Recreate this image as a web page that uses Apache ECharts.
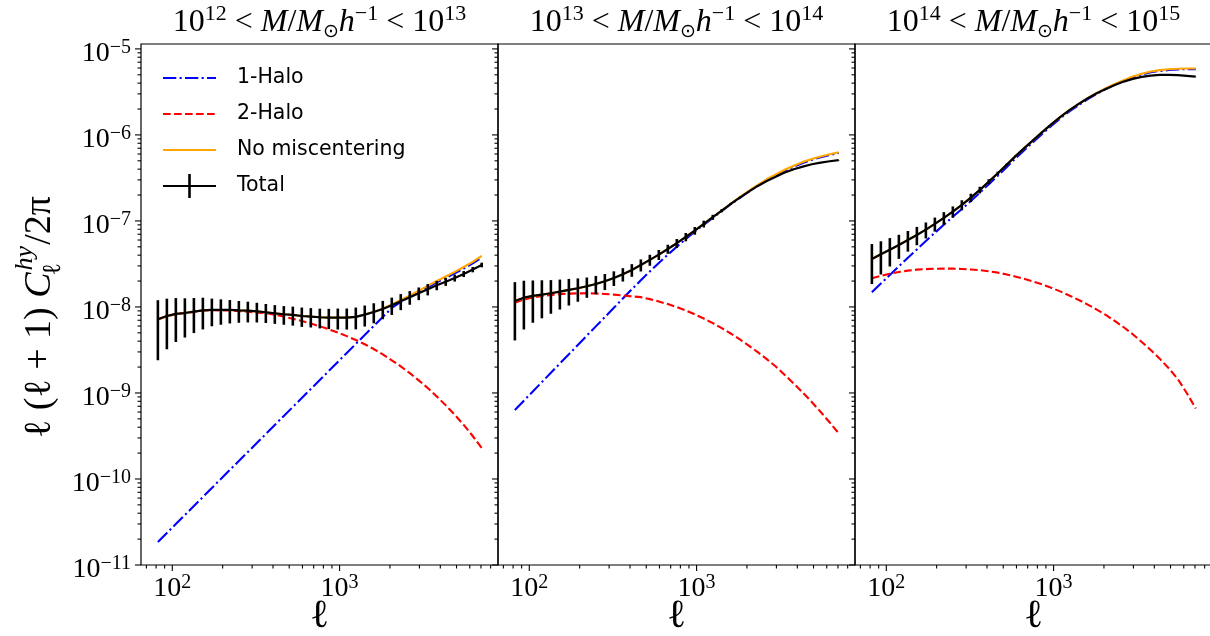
<!DOCTYPE html>
<html><head><meta charset="utf-8">
<script src="https://cdn.jsdelivr.net/npm/echarts@6/dist/echarts.min.js"></script>
<style>html,body{margin:0;padding:0;background:#fff}#c{width:1210px;height:636px}</style>
</head><body><div id="c"></div>
<script>
// multipole grid (shared by all panels)
const ell = [82, 92.8, 105.0, 118.9, 134.6, 152.3, 172.4, 195.1, 220.8, 249.9, 282.9, 320.2, 362.4, 410.1, 464.2, 525.4, 594.6, 673, 761.7, 862.1, 975.7, 1104, 1250, 1414, 1601, 1812, 2051, 2321, 2627, 2973, 3365, 3809, 4311, 4879, 5522, 6250, 7074];

// Panel A: 1e12 < M < 1e13
const oneHaloA = [1.849e-11, 2.355e-11, 2.992e-11, 3.811e-11, 4.853e-11, 6.166e-11, 7.852e-11, 1.000e-10, 1.274e-10, 1.618e-10, 2.061e-10, 2.624e-10, 3.334e-10, 4.246e-10, 5.408e-10, 6.871e-10, 8.750e-10, 1.114e-9, 1.416e-9, 1.803e-9, 2.296e-9, 2.917e-9, 3.715e-9, 4.732e-9, 6.026e-9, 7.638e-9, 9.772e-9, 1.148e-8, 1.303e-8, 1.486e-8, 1.690e-8, 1.928e-8, 2.178e-8, 2.455e-8, 2.799e-8, 3.214e-8, 3.758e-8];
const twoHaloA = [7.16e-9, 7.81e-9, 8.26e-9, 8.47e-9, 8.77e-9, 9.08e-9, 9.14e-9, 9.12e-9, 9.08e-9, 8.95e-9, 8.81e-9, 8.59e-9, 8.47e-9, 8.13e-9, 7.73e-9, 7.29e-9, 6.85e-9, 6.41e-9, 5.96e-9, 5.50e-9, 5.04e-9, 4.58e-9, 4.13e-9, 3.68e-9, 3.24e-9, 2.81e-9, 2.40e-9, 2.04e-9, 1.70e-9, 1.40e-9, 1.140e-9, 9.12e-10, 7.19e-10, 5.58e-10, 4.25e-10, 3.16e-10, 2.29e-10];
const noMiscA = [7.19e-9, 7.85e-9, 8.30e-9, 8.51e-9, 8.83e-9, 9.14e-9, 9.23e-9, 9.23e-9, 9.23e-9, 9.14e-9, 9.06e-9, 8.89e-9, 8.67e-9, 8.43e-9, 8.22e-9, 8.07e-9, 7.85e-9, 7.73e-9, 7.59e-9, 7.52e-9, 7.52e-9, 7.52e-9, 7.66e-9, 8.15e-9, 8.75e-9, 9.59e-9, 1.069e-8, 1.205e-8, 1.355e-8, 1.545e-8, 1.758e-8, 2.004e-8, 2.259e-8, 2.553e-8, 2.911e-8, 3.342e-8, 3.917e-8];
const totalA = [7.19e-9, 7.85e-9, 8.30e-9, 8.51e-9, 8.83e-9, 9.14e-9, 9.23e-9, 9.23e-9, 9.23e-9, 9.14e-9, 9.06e-9, 8.89e-9, 8.67e-9, 8.43e-9, 8.22e-9, 8.07e-9, 7.85e-9, 7.73e-9, 7.59e-9, 7.52e-9, 7.52e-9, 7.52e-9, 7.66e-9, 8.15e-9, 8.75e-9, 9.48e-9, 1.045e-8, 1.164e-8, 1.294e-8, 1.442e-8, 1.603e-8, 1.786e-8, 1.968e-8, 2.173e-8, 2.42e-8, 2.72e-8, 3.08e-8];
const errA = [4.79e-9, 4.63e-9, 4.39e-9, 4.10e-9, 3.86e-9, 3.66e-9, 3.27e-9, 3.02e-9, 2.80e-9, 2.59e-9, 2.45e-9, 2.29e-9, 2.16e-9, 2.07e-9, 2.01e-9, 2.01e-9, 1.99e-9, 1.96e-9, 1.96e-9, 1.99e-9, 2.06e-9, 2.06e-9, 2.17e-9, 2.23e-9, 2.29e-9, 2.28e-9, 2.38e-9, 2.46e-9, 2.34e-9, 2.42e-9, 2.41e-9, 2.21e-9, 2.10e-9, 2.00e-9, 1.94e-9, 1.93e-9, 1.91e-9];

// Panel B: 1e13 < M < 1e14
const oneHaloB = [6.339e-10, 8.128e-10, 1.042e-9, 1.337e-9, 1.714e-9, 2.198e-9, 2.818e-9, 3.614e-9, 4.634e-9, 5.943e-9, 7.621e-9, 9.772e-9, 1.253e-8, 1.603e-8, 2.042e-8, 2.582e-8, 3.251e-8, 4.055e-8, 5.012e-8, 6.166e-8, 7.516e-8, 9.016e-8, 1.081e-7, 1.300e-7, 1.563e-7, 1.849e-7, 2.188e-7, 2.570e-7, 2.979e-7, 3.396e-7, 3.846e-7, 4.285e-7, 4.721e-7, 5.129e-7, 5.495e-7, 5.834e-7, 6.152e-7];
const twoHaloB = [1.122e-8, 1.222e-8, 1.288e-8, 1.343e-8, 1.380e-8, 1.409e-8, 1.429e-8, 1.439e-8, 1.442e-8, 1.432e-8, 1.416e-8, 1.390e-8, 1.361e-8, 1.327e-8, 1.300e-8, 1.233e-8, 1.159e-8, 1.079e-8, 9.954e-9, 9.078e-9, 8.204e-9, 7.328e-9, 6.486e-9, 5.662e-9, 4.909e-9, 4.198e-9, 3.556e-9, 2.979e-9, 2.472e-9, 2.028e-9, 1.618e-9, 1.288e-9, 1.014e-9, 7.852e-10, 6.012e-10, 4.539e-10, 3.396e-10];
const noMiscB = [1.175e-8, 1.282e-8, 1.343e-8, 1.390e-8, 1.442e-8, 1.507e-8, 1.578e-8, 1.648e-8, 1.738e-8, 1.849e-8, 1.991e-8, 2.173e-8, 2.399e-8, 2.692e-8, 3.076e-8, 3.524e-8, 4.055e-8, 4.721e-8, 5.508e-8, 6.516e-8, 7.709e-8, 9.226e-8, 1.104e-7, 1.318e-7, 1.585e-7, 1.888e-7, 2.239e-7, 2.630e-7, 3.048e-7, 3.475e-7, 3.936e-7, 4.385e-7, 4.831e-7, 5.248e-7, 5.623e-7, 5.970e-7, 6.295e-7];
const totalB = [1.175e-8, 1.282e-8, 1.343e-8, 1.390e-8, 1.442e-8, 1.507e-8, 1.578e-8, 1.648e-8, 1.738e-8, 1.849e-8, 1.991e-8, 2.173e-8, 2.399e-8, 2.692e-8, 3.076e-8, 3.524e-8, 4.055e-8, 4.721e-8, 5.508e-8, 6.516e-8, 7.709e-8, 9.226e-8, 1.104e-7, 1.318e-7, 1.578e-7, 1.866e-7, 2.193e-7, 2.553e-7, 2.917e-7, 3.273e-7, 3.648e-7, 3.990e-7, 4.276e-7, 4.560e-7, 4.764e-7, 4.943e-7, 5.082e-7];
const errB = [7.67e-9, 7.35e-9, 6.88e-9, 6.52e-9, 6.09e-9, 5.74e-9, 5.40e-9, 4.99e-9, 4.61e-9, 4.44e-9, 4.20e-9, 4.22e-9, 4.25e-9, 4.52e-9, 4.92e-9, 5.15e-9, 5.39e-9, 5.66e-9, 6.61e-9, 7.24e-9, 7.86e-9, 8.31e-9, 7.40e-9, 5.5e-9, 4.5e-9, 4.0e-9, 3.8e-9, 3.6e-9, 3.4e-9, 3.2e-9, 3.0e-9, 2.8e-9, 2.6e-9, 2.4e-9, 2.2e-9, 2.0e-9, 1.8e-9];

// Panel C: 1e14 < M < 1e15
const oneHaloC = [1.483e-8, 1.871e-8, 2.355e-8, 2.965e-8, 3.724e-8, 4.667e-8, 5.834e-8, 7.278e-8, 9.036e-8, 1.117e-7, 1.374e-7, 1.706e-7, 2.128e-7, 2.673e-7, 3.357e-7, 4.246e-7, 5.370e-7, 6.730e-7, 8.375e-7, 1.042e-6, 1.288e-6, 1.574e-6, 1.888e-6, 2.218e-6, 2.606e-6, 3.013e-6, 3.420e-6, 3.846e-6, 4.266e-6, 4.688e-6, 5.047e-6, 5.346e-6, 5.546e-6, 5.675e-6, 5.768e-6, 5.808e-6, 5.808e-6];
const twoHaloC = [2.158e-8, 2.291e-8, 2.438e-8, 2.553e-8, 2.642e-8, 2.716e-8, 2.754e-8, 2.780e-8, 2.786e-8, 2.786e-8, 2.767e-8, 2.729e-8, 2.679e-8, 2.600e-8, 2.506e-8, 2.388e-8, 2.249e-8, 2.118e-8, 1.968e-8, 1.816e-8, 1.663e-8, 1.507e-8, 1.352e-8, 1.205e-8, 1.064e-8, 9.311e-9, 8.072e-9, 6.871e-9, 5.808e-9, 4.819e-9, 3.917e-9, 3.162e-9, 2.506e-9, 1.936e-9, 1.455e-9, 1.000e-9, 6.607e-10];
const noMiscC = [3.614e-8, 4.093e-8, 4.634e-8, 5.260e-8, 6.012e-8, 6.871e-8, 7.925e-8, 9.226e-8, 1.084e-7, 1.282e-7, 1.535e-7, 1.866e-7, 2.291e-7, 2.864e-7, 3.581e-7, 4.519e-7, 5.702e-7, 7.112e-7, 8.810e-7, 1.091e-6, 1.343e-6, 1.633e-6, 1.954e-6, 2.291e-6, 2.679e-6, 3.083e-6, 3.483e-6, 3.908e-6, 4.325e-6, 4.786e-6, 5.152e-6, 5.458e-6, 5.662e-6, 5.794e-6, 5.875e-6, 5.916e-6, 5.916e-6];
const totalC = [3.614e-8, 4.093e-8, 4.634e-8, 5.260e-8, 6.012e-8, 6.871e-8, 7.925e-8, 9.226e-8, 1.084e-7, 1.282e-7, 1.535e-7, 1.866e-7, 2.291e-7, 2.864e-7, 3.581e-7, 4.519e-7, 5.702e-7, 7.112e-7, 8.810e-7, 1.091e-6, 1.343e-6, 1.633e-6, 1.954e-6, 2.291e-6, 2.667e-6, 3.055e-6, 3.428e-6, 3.811e-6, 4.169e-6, 4.477e-6, 4.721e-6, 4.898e-6, 4.989e-6, 4.989e-6, 4.943e-6, 4.853e-6, 4.764e-6];
const errC = [1.77e-8, 1.71e-8, 1.68e-8, 1.64e-8, 1.62e-8, 1.65e-8, 1.67e-8, 1.71e-8, 1.82e-8, 1.92e-8, 2.04e-8, 2.07e-8, 2.04e-8, 1.90e-8, 1.60e-8, 1.30e-8, 1.0e-8, 9e-9, 8e-9, 8e-9, 8e-9, 8e-9, 8e-9, 8e-9, 8e-9, 8e-9, 8e-9, 8e-9, 8e-9, 8e-9, 8e-9, 8e-9, 8e-9, 8e-9, 8e-9, 8e-9, 8e-9];

// mass-bin exponents for panel titles
const titleLow = ['12', '13', '14'];
const titleHigh = ['13', '14', '15'];
// tick label exponents
const yTickExps = [-11, -10, -9, -8, -7, -6, -5];
const xTickExps = [2, 3];
const legendNames = ['1-Halo', '2-Halo', 'No miscentering', 'Total'];
const xName = '\u2113';

const SERIF = '"Liberation Serif", "DejaVu Serif", serif';
const SANS = '"DejaVu Sans", sans-serif';
const panels = [
  {one: oneHaloA, two: twoHaloA, nm: noMiscA, tot: totalA, err: errA},
  {one: oneHaloB, two: twoHaloB, nm: noMiscB, tot: totalB, err: errB},
  {one: oneHaloC, two: twoHaloC, nm: noMiscC, tot: totalC, err: errC}
];
const lefts = [141, 498, 855];
const XMIN = 65, XMAX = 8850, YMIN = 1e-11, YMAX = 1.14e-5;

const chart = echarts.init(document.getElementById('c'), null, {renderer: 'canvas', width: 1210, height: 636});

function powLabel(exps) {
  return function (v) {
    const lg = Math.log10(v), e = Math.round(lg);
    if (Math.abs(lg - e) > 1e-6 || exps.indexOf(e) < 0) return '';
    return '{n|10}{s|' + (e < 0 ? '\u2212' : '') + Math.abs(e) + '}';
  };
}
const labelRich = {
  n: {fontSize: 28, fontFamily: SERIF, lineHeight: 30, verticalAlign: 'bottom', color: '#000'},
  s: {fontSize: 20, fontFamily: SERIF, lineHeight: 14, verticalAlign: 'top', color: '#000'}
};

// axis tick marks (drawn through the axes' own scales)
const yTickData = [];
for (let e = -11; e <= -5; e++) {
  yTickData.push([XMIN, Math.pow(10, e), 0]);
  if (e < -5) for (let k = 2; k <= 9; k++) yTickData.push([XMIN, k * Math.pow(10, e), 1]);
}
const xTickData = [];
for (let e = 1; e <= 3; e++) for (let k = 1; k <= 9; k++) {
  const v = k * Math.pow(10, e);
  if (v >= XMIN && v <= XMAX) xTickData.push([v, YMIN, k === 1 ? 2 : 3]);
}
function renderTick(params, api) {
  const cs = params.coordSys;
  const kind = api.value(2);
  const p = api.coord([api.value(0), api.value(1)]);
  if (kind < 2) {
    const len = kind === 0 ? 6 : 3.5;
    return {type: 'line', shape: {x1: cs.x - len, y1: p[1], x2: cs.x, y2: p[1]}, style: {stroke: '#000', lineWidth: 1.1}};
  }
  const len = kind === 2 ? 6 : 3.5;
  const yb = cs.y + cs.height;
  return {type: 'line', shape: {x1: p[0], y1: yb, x2: p[0], y2: yb + len}, style: {stroke: '#000', lineWidth: 1.1}};
}
function renderErr(params, api) {
  const x = api.value(0), v = api.value(1), s = api.value(2);
  const a = api.coord([x, v - s]), b = api.coord([x, v + s]);
  return {type: 'line', shape: {x1: a[0], y1: a[1], x2: b[0], y2: b[1]}, style: {stroke: '#000', lineWidth: 2.6}};
}

const grid = [], xAxis = [], yAxis = [], series = [];
panels.forEach((P, i) => {
  grid.push({left: lefts[i], top: 44, width: 357, height: 521, show: true, borderColor: '#000', borderWidth: 1.2,
    backgroundColor: 'rgba(0,0,0,0)', containLabel: false, outerBoundsMode: 'none'});
  xAxis.push({
    type: 'log', logBase: 10, gridIndex: i, min: XMIN, max: XMAX,
    axisLine: {show: false}, axisTick: {show: false}, splitLine: {show: false},
    axisLabel: {formatter: powLabel(xTickExps), rich: labelRich, margin: 8, showMinLabel: false, showMaxLabel: false}
  });
  yAxis.push({
    type: 'log', logBase: 10, gridIndex: i, min: YMIN, max: YMAX,
    axisLine: {show: false}, axisTick: {show: false}, splitLine: {show: false},
    axisLabel: {show: i === 0, formatter: powLabel(yTickExps), rich: labelRich, margin: 10, padding: [7, 0, 0, 0], showMinLabel: true, showMaxLabel: false}
  });
  const mk = (arr) => ell.map((l, j) => [l, arr[j]]);
  const base = {type: 'line', xAxisIndex: i, yAxisIndex: i, showSymbol: false, symbol: 'none', silent: true, animation: false};
  series.push(Object.assign({}, base, {name: legendNames[0], z: 2, data: mk(P.one), lineStyle: {color: '#0000ff', width: 2.1, type: [13.3, 3.3, 2.1, 3.3]}}));
  series.push(Object.assign({}, base, {name: legendNames[1], z: 3, data: mk(P.two), lineStyle: {color: '#ff0000', width: 2.1, type: [7.7, 3.3]}}));
  series.push(Object.assign({}, base, {name: legendNames[2], z: 4, data: mk(P.nm), lineStyle: {color: '#ffa500', width: 2.1}}));
  series.push({type: 'custom', xAxisIndex: i, yAxisIndex: i, z: 5, silent: true, animation: false,
    encode: {x: 0, y: 1}, renderItem: renderErr, data: ell.map((l, j) => [l, P.tot[j], P.err[j]])});
  series.push(Object.assign({}, base, {name: legendNames[3], z: 6, data: mk(P.tot), lineStyle: {color: '#000000', width: 2.2}}));
  series.push({type: 'custom', xAxisIndex: i, yAxisIndex: i, z: 1, silent: true, animation: false, clip: false,
    encode: {x: 0, y: 1}, renderItem: renderTick, data: yTickData.concat(xTickData)});
});

// graphic: titles, axis names, legend
const graphic = [];
const titleRich = {
  n: {fontSize: 32, fontFamily: SERIF, lineHeight: 38, color: '#000'},
  i: {fontSize: 32, fontFamily: SERIF, fontStyle: 'italic', lineHeight: 38, color: '#000'},
  s: {fontSize: 22, fontFamily: SERIF, lineHeight: 18, verticalAlign: 'top', color: '#000'},
  b: {fontSize: 19, fontFamily: SANS, lineHeight: 16, verticalAlign: 'bottom', color: '#000'}
};
lefts.forEach((l, i) => {
  graphic.push({type: 'text', x: l + 178.5, y: 22.5, silent: true, style: {
    text: '{n|10}{s|' + titleLow[i] + '}{n| < }{i|M}{n|/}{i|M}{b|\u2299}{i|h}{s|\u22121}{n| < 10}{s|' + titleHigh[i] + '}',
    rich: titleRich, align: 'center', verticalAlign: 'middle'}});
  graphic.push({type: 'text', x: l + 178.5, y: 616, silent: true, style: {
    text: xName, font: '40px ' + SERIF, fill: '#000', align: 'center', verticalAlign: 'middle'}});
});

const mctx = document.createElement('canvas').getContext('2d');
function tw(t, f) { mctx.font = f; return mctx.measureText(t).width; }
const F1 = '38px ' + SERIF, FI = 'italic 38px ' + SERIF, FS = 'italic 26px ' + SERIF, FSn = '26px ' + SERIF;
const p1 = '\u2113 (\u2113 + 1) ', p3 = '/2\u03c0';
const w1 = tw(p1, F1), wC = tw('C', FI), wsup = tw('hy', FS), wsub = tw('\u2113', FSn), w3 = tw(p3, F1);
const wScript = Math.max(wsup, wsub) + 3;
const W = w1 + wC + wScript + w3;
const x0 = -W / 2;
graphic.push({type: 'group', x: 40, y: 317, rotation: Math.PI / 2, silent: true, children: [
  {type: 'text', x: x0, y: 0, style: {text: p1, font: F1, fill: '#000', align: 'left', verticalAlign: 'middle'}},
  {type: 'text', x: x0 + w1, y: 0, style: {text: 'C', font: FI, fill: '#000', align: 'left', verticalAlign: 'middle'}},
  {type: 'text', x: x0 + w1 + wC + 2, y: -15, style: {text: 'hy', font: FS, fill: '#000', align: 'left', verticalAlign: 'middle'}},
  {type: 'text', x: x0 + w1 + wC - 3, y: 13, style: {text: '\u2113', font: FSn, fill: '#000', align: 'left', verticalAlign: 'middle'}},
  {type: 'text', x: x0 + w1 + wC + wScript, y: 0, style: {text: p3, font: F1, fill: '#000', align: 'left', verticalAlign: 'middle'}}
]});

// legend (upper-left of first panel)
const legY = [78, 114, 150, 186];
const legStyles = [
  {stroke: '#0000ff', lineWidth: 2.1, lineDash: [13.3, 3.3, 2.1, 3.3]},
  {stroke: '#ff0000', lineWidth: 2.1, lineDash: [7.7, 3.3]},
  {stroke: '#ffa500', lineWidth: 2.1},
  {stroke: '#000000', lineWidth: 2.2}
];
legendNames.forEach((nm, k) => {
  graphic.push({type: 'line', silent: true, shape: {x1: 163, y1: legY[k], x2: 216, y2: legY[k]}, style: legStyles[k]});
  graphic.push({type: 'text', x: 237, y: legY[k], silent: true, style: {text: nm, font: '20.5px ' + SANS, fill: '#000', align: 'left', verticalAlign: 'middle'}});
});
graphic.push({type: 'line', silent: true, shape: {x1: 189.5, y1: 174, x2: 189.5, y2: 198}, style: {stroke: '#000', lineWidth: 2.6}});

chart.setOption({
  animation: false,
  backgroundColor: '#ffffff',
  grid, xAxis, yAxis, series, graphic
});
</script>
</body></html>
